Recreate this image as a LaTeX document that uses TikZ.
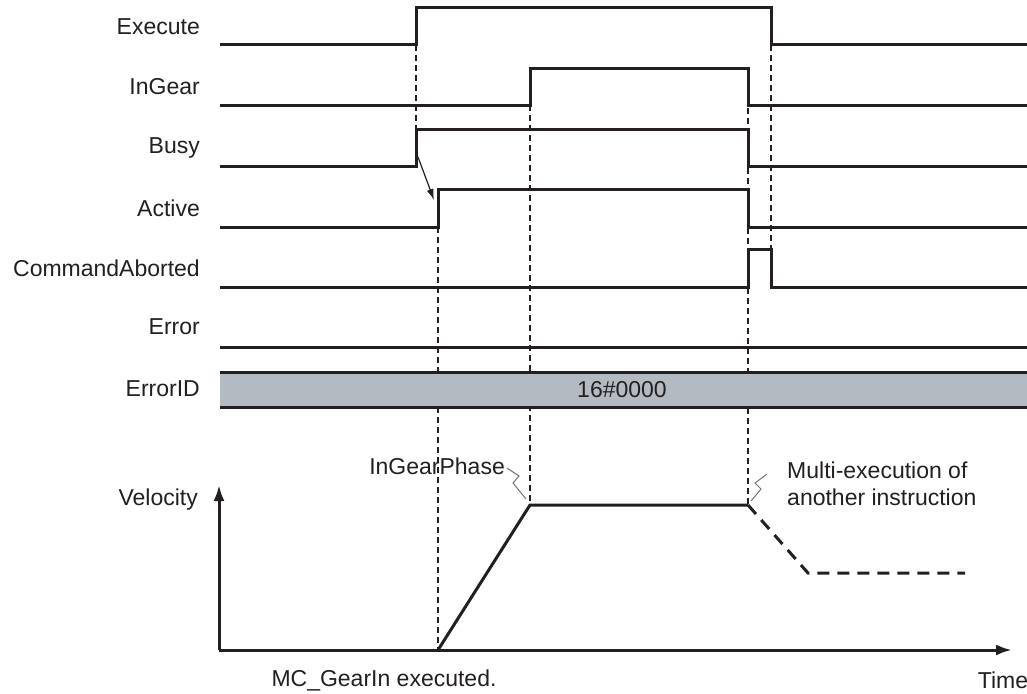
\documentclass[tikz,border=0pt]{standalone}
\usepackage{fontspec}
\setmainfont{Liberation Sans}
\usetikzlibrary{arrows.meta}
\definecolor{ink}{RGB}{35,31,32}
\definecolor{barfill}{RGB}{180,186,193}
\begin{document}
\begin{tikzpicture}[x=1pt,y=-1pt,line join=miter,
  sig/.style={line width=3pt,draw=ink},
  guide/.style={line width=1.1pt,draw=ink,dash pattern=on 6pt off 4pt},
  lab/.style={font=\fontsize{23}{27}\selectfont,text=ink,inner sep=0pt},
  leader/.style={line width=1pt,draw=black!55}]
  \useasboundingbox (0,0) rectangle (1027,693);

  % signal names
  \node[lab,anchor=east] (execute) at (200,27) {Execute};
  \node[lab,anchor=east] (ingear) at (200,87) {InGear};
  \node[lab,anchor=east] (busy) at (200,148) {Busy};
  \node[lab,anchor=east] (active) at (200,208) {Active};
  \node[lab,anchor=east] (aborted) at (200,268) {CommandAborted};
  \node[lab,anchor=east] (error) at (200,327) {Error};
  \node[lab,anchor=east] (errorid) at (200,389) {ErrorID};

  % timing guides
  \draw[guide] (416,45) -- (416,129);
  \draw[guide] (438,227) -- (438,650);
  \draw[guide] (530,105) -- (530,505);
  \draw[guide] (748,68) -- (748,505);
  \draw[guide] (771,45) -- (771,249);

  % waveforms
  \draw[sig] (220,45) -- (416,45) -- (416,8) -- (771,8) -- (771,45) -- (1027,45);
  \draw[sig] (220,105) -- (530,105) -- (530,68) -- (748,68) -- (748,105) -- (1027,105);
  \draw[sig] (220,166) -- (416,166) -- (416,129) -- (748,129) -- (748,166) -- (1027,166);
  \draw[sig] (220,227) -- (438,227) -- (438,189) -- (748,189) -- (748,227) -- (1027,227);
  \draw[sig] (220,287) -- (748,287) -- (748,249) -- (771,249) -- (771,287) -- (1027,287);
  \draw[sig] (220,347) -- (1027,347);

  \coordinate (busyup) at (418,157);
  \coordinate (activeup) at (434,200);
  \draw[line width=1.2pt,draw=ink,-{Latex[length=11pt,width=7pt]}] (busyup) -- (activeup);

  % error code bar
  \fill[barfill] (220,372) rectangle (1027,408);
  \draw[sig] (220,372.5) -- (1027,372.5);
  \draw[sig] (220,407.5) -- (1027,407.5);
  \node[lab] (code) at (622,390) {16\#0000};

  % velocity profile
  \coordinate (origin) at (219,650);
  \draw[sig,-{Latex[length=16pt,width=11pt]}] (origin) -- (219,485);
  \draw[sig,-{Latex[length=16pt,width=11pt]}] (origin) -- (1012,650);
  \node[lab,anchor=east] (velocity) at (198,500) {Velocity};
  \node[lab] (time) at (1003,680) {Time};
  \node[lab] (start) at (384,680) {MC\_GearIn executed.};

  \draw[sig] (438,650) -- (530,505) -- (748,505);
  \draw[sig,dash pattern=on 12pt off 8pt] (748,505) -- (808,573) -- (965,573);

  \node[lab,anchor=east] (phase) at (505,466) {InGearPhase};
  \node[lab,anchor=west,align=left] (multi) at (787,484) {Multi-execution of\\another instruction};
  \draw[leader] (phase.east) ++(2,2) -- ++(12,8) -- ++(-6,7) -- (526,499);
  \draw[leader] (multi.west) ++(-20,-10) -- ++(-12,9) -- ++(6,6) -- (751,501);
\end{tikzpicture}
\end{document}
